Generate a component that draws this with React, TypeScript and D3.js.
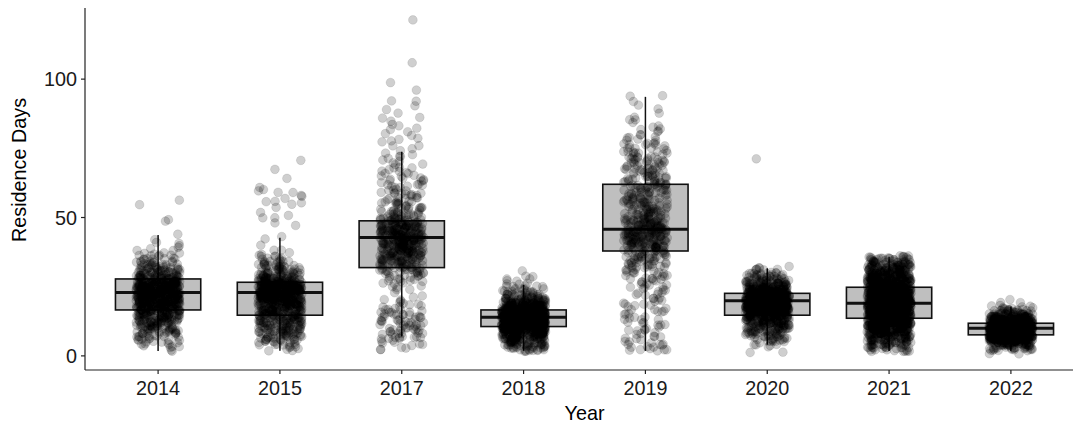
import { useMemo } from "react";
import { scaleLinear, scalePoint } from "d3";

// categories and box summaries
const years = ["2014", "2015", "2017", "2018", "2019", "2020", "2021", "2022"];
const whiskerLow = [1.8, 1.9, 7.0, 1.8, 1.8, 4.0, 1.8, 1.8];
const q1 = [16.6, 14.7, 31.9, 10.6, 37.9, 14.7, 13.6, 7.6];
const median = [22.9, 22.9, 42.8, 14.0, 45.8, 19.9, 19.0, 10.0];
const q3 = [27.8, 26.6, 48.8, 16.6, 62.0, 22.6, 24.8, 11.8];
const whiskerHigh = [43.7, 42.7, 73.8, 25.6, 93.6, 31.7, 35.8, 17.8];

// jittered observations, as [residence days, count] tables estimated from the point clouds
const obs2014: [number, number][] = [
  [2, 2], [3, 3], [4, 4], [5, 5], [6, 7], [7, 9], [8, 10], [9, 12], [10, 14], [11, 15], [12, 18], [13, 20],
  [14, 22], [15, 24], [16, 26], [17, 28], [18, 30], [19, 32], [20, 34], [21, 36], [22, 38], [23, 40],
  [24, 40], [25, 38], [26, 34], [27, 30], [28, 26], [29, 20], [30, 17], [31, 14], [32, 12], [33, 10],
  [34, 8], [35, 7], [36, 5], [37, 4], [38, 2], [39, 2], [40, 1], [41, 2], [42, 1], [44, 1], [49, 2],
  [55, 1], [56, 1],
];
const obs2015: [number, number][] = [
  [2, 3], [3, 4], [4, 6], [5, 8], [6, 10], [7, 12], [8, 14], [9, 15], [10, 16], [11, 17], [12, 18],
  [13, 20], [14, 22], [15, 22], [16, 22], [17, 24], [18, 26], [19, 28], [20, 30], [21, 33], [22, 37],
  [23, 40], [24, 44], [25, 44], [26, 40], [27, 30], [28, 22], [29, 17], [30, 14], [31, 12], [32, 10],
  [33, 9], [34, 7], [35, 5], [36, 4], [37, 2], [38, 2], [40, 1], [42, 1], [43, 1], [47, 1], [48, 1],
  [50, 2], [51, 1], [52, 1], [54, 1], [55, 2], [56, 2], [57, 1], [58, 2], [59, 2], [60, 2], [61, 1],
  [64, 1], [67, 1], [71, 1],
];
const obs2017: [number, number][] = [
  [2, 2], [3, 2], [4, 3], [5, 3], [6, 4], [7, 6], [8, 6], [9, 6], [10, 6], [11, 6], [12, 6], [13, 6],
  [14, 6], [15, 6], [16, 5], [17, 4], [18, 4], [19, 3], [20, 3], [21, 1], [22, 1], [23, 1], [24, 2],
  [25, 3], [26, 3], [27, 4], [28, 5], [29, 6], [30, 8], [31, 10], [32, 11], [33, 13], [34, 14], [35, 16],
  [36, 16], [37, 18], [38, 19], [39, 19], [40, 21], [41, 22], [42, 22], [43, 22], [44, 22], [45, 22],
  [46, 21], [47, 19], [48, 17], [49, 15], [50, 10], [51, 9], [52, 8], [53, 7], [54, 6], [55, 6], [56, 6],
  [57, 5], [58, 5], [59, 5], [60, 4], [61, 4], [62, 4], [63, 4], [64, 4], [65, 3], [66, 3], [67, 3],
  [68, 3], [69, 2], [70, 2], [71, 2], [72, 2], [73, 2], [74, 1], [75, 1], [76, 2], [77, 1], [78, 2],
  [79, 1], [80, 2], [81, 1], [82, 2], [83, 1], [84, 1], [85, 1], [86, 2], [88, 1], [89, 1], [90, 1],
  [92, 2], [96, 1], [99, 1], [106, 1], [121, 1],
];
const obs2018: [number, number][] = [
  [2, 10], [3, 14], [4, 18], [5, 20], [6, 24], [7, 30], [8, 38], [9, 46], [10, 56], [11, 66], [12, 72],
  [13, 74], [14, 74], [15, 70], [16, 64], [17, 54], [18, 43], [19, 33], [20, 25], [21, 18], [22, 13],
  [23, 10], [24, 7], [25, 5], [26, 3], [27, 2], [28, 2], [29, 2], [31, 1],
];
const obs2019: [number, number][] = [
  [2, 5], [3, 4], [4, 4], [5, 3], [6, 3], [7, 3], [8, 3], [9, 3], [10, 3], [11, 3], [12, 3], [13, 3],
  [14, 3], [15, 3], [16, 3], [17, 3], [18, 3], [19, 3], [20, 3], [21, 3], [22, 3], [23, 3], [24, 3],
  [25, 3], [26, 4], [27, 4], [28, 5], [29, 5], [30, 5], [31, 5], [32, 7], [33, 7], [34, 8], [35, 9],
  [36, 9], [37, 10], [38, 12], [39, 13], [40, 15], [41, 15], [42, 16], [43, 18], [44, 18], [45, 18],
  [46, 18], [47, 16], [48, 15], [49, 13], [50, 12], [51, 10], [52, 10], [53, 9], [54, 9], [55, 9],
  [56, 9], [57, 9], [58, 8], [59, 8], [60, 8], [61, 9], [62, 9], [63, 8], [64, 8], [65, 8], [66, 7],
  [67, 7], [68, 7], [69, 7], [70, 7], [71, 7], [72, 6], [73, 5], [74, 5], [75, 5], [76, 4], [77, 4],
  [78, 3], [79, 3], [80, 2], [81, 2], [82, 2], [83, 2], [84, 1], [85, 2], [86, 1], [88, 1], [89, 1],
  [91, 1], [92, 1], [94, 2],
];
const obs2020: [number, number][] = [
  [1, 2], [3, 1], [4, 4], [5, 6], [6, 8], [7, 11], [8, 13], [9, 16], [10, 19], [11, 22], [12, 26],
  [13, 29], [14, 32], [15, 37], [16, 42], [17, 48], [18, 54], [19, 60], [20, 64], [21, 64], [22, 58],
  [23, 48], [24, 38], [25, 30], [26, 24], [27, 19], [28, 14], [29, 11], [30, 8], [31, 5], [32, 3], [71, 1],
];
const obs2021: [number, number][] = [
  [2, 10], [3, 13], [4, 16], [5, 19], [6, 22], [7, 25], [8, 30], [9, 33], [10, 39], [11, 42], [12, 45],
  [13, 48], [14, 51], [15, 54], [16, 57], [17, 57], [18, 57], [19, 57], [20, 55], [21, 54], [22, 52],
  [23, 51], [24, 48], [25, 45], [26, 42], [27, 39], [28, 36], [29, 33], [30, 30], [31, 27], [32, 24],
  [33, 21], [34, 18], [35, 15], [36, 8],
];
const obs2022: [number, number][] = [
  [1, 2], [2, 9], [3, 15], [4, 24], [5, 36], [6, 51], [7, 69], [8, 84], [9, 93], [10, 96], [11, 90],
  [12, 75], [13, 57], [14, 39], [15, 25], [16, 15], [17, 9], [18, 4], [19, 2], [20, 1],
];
const observations = [obs2014, obs2015, obs2017, obs2018, obs2019, obs2020, obs2021, obs2022];

const yTicks = [0, 50, 100];

const WIDTH = 1073;
const HEIGHT = 427;
const FONT = "'Liberation Sans', Arial, Helvetica, sans-serif";

// deterministic jitter, like geom_jitter but repeatable
function jitter(n: number) {
  const s = Math.sin(n * 127.1 + 311.7) * 43758.5453;
  return s - Math.floor(s);
}

export default function App() {
  const x = useMemo(
    () => scalePoint<string>().domain(years).range([85, 1084]).padding(0.6),
    []
  );
  const y = useMemo(() => scaleLinear().domain([-5.1, 125.7]).range([370, 8]), []);
  const step = x.step();
  const boxW = step * 0.7;
  const jitterW = step * 0.18;

  const points = useMemo(() => {
    const out: { cx: number; cy: number }[] = [];
    observations.forEach((table, yi) => {
      let k = 0;
      table.forEach(([days, count]) => {
        for (let c = 0; c < count; c++) {
          const seed = yi * 10007 + k * 2;
          out.push({
            cx: (x(years[yi]) as number) + (jitter(seed) * 2 - 1) * jitterW,
            cy: y(days + (jitter(seed + 1) * 2 - 1) * 0.4),
          });
          k++;
        }
      });
    });
    return out;
  }, [x, y, jitterW]);

  const [x0, x1] = x.range();
  const [yb, yt] = y.range();

  return (
    <svg
      width={WIDTH}
      height={HEIGHT}
      style={{ position: "absolute", left: 0, top: 0, background: "#fff" }}
      fontFamily={FONT}
    >
      {/* boxes */}
      {years.map((yr, i) => {
        const cx = x(yr) as number;
        return (
          <g key={yr} stroke="#111" fill="none">
            <line x1={cx} x2={cx} y1={y(whiskerHigh[i])} y2={y(q3[i])} strokeWidth={1.5} />
            <line x1={cx} x2={cx} y1={y(q1[i])} y2={y(whiskerLow[i])} strokeWidth={1.5} />
            <rect
              x={cx - boxW / 2}
              y={y(q3[i])}
              width={boxW}
              height={y(q1[i]) - y(q3[i])}
              fill="#bfbfbf"
              strokeWidth={1.6}
            />
            <line x1={cx - boxW / 2} x2={cx + boxW / 2} y1={y(median[i])} y2={y(median[i])} strokeWidth={3} />
          </g>
        );
      })}
      {/* jittered points */}
      <g fill="#000" fillOpacity={0.19} stroke="#000" strokeOpacity={0.12} strokeWidth={0.8}>
        {points.map((p, i) => (
          <circle key={i} cx={p.cx} cy={p.cy} r={4.4} />
        ))}
      </g>
      {/* axes */}
      <line x1={x0} x2={x0} y1={yb} y2={yt} stroke="#222" strokeWidth={1.2} />
      <line x1={x0} x2={x1} y1={yb} y2={yb} stroke="#222" strokeWidth={1.2} />
      {yTicks.map((t) => (
        <g key={t}>
          <line x1={x0 - 4} x2={x0} y1={y(t)} y2={y(t)} stroke="#222" strokeWidth={1.2} />
          <text x={x0 - 8} y={y(t)} dy="0.36em" textAnchor="end" fontSize={19.8} fill="#1a1a1a">
            {t}
          </text>
        </g>
      ))}
      {years.map((yr) => (
        <g key={yr}>
          <line x1={x(yr)} x2={x(yr)} y1={yb} y2={yb + 4} stroke="#222" strokeWidth={1.2} />
          <text x={x(yr)} y={394.5} textAnchor="middle" fontSize={19.8} fill="#1a1a1a">
            {yr}
          </text>
        </g>
      ))}
      <text x={(x0 + x1) / 2} y={420} textAnchor="middle" fontSize={19.8} fill="#000">
        Year
      </text>
      <text transform="translate(26,170) rotate(-90)" textAnchor="middle" fontSize={19.8} fill="#000">
        Residence Days
      </text>
    </svg>
  );
}
